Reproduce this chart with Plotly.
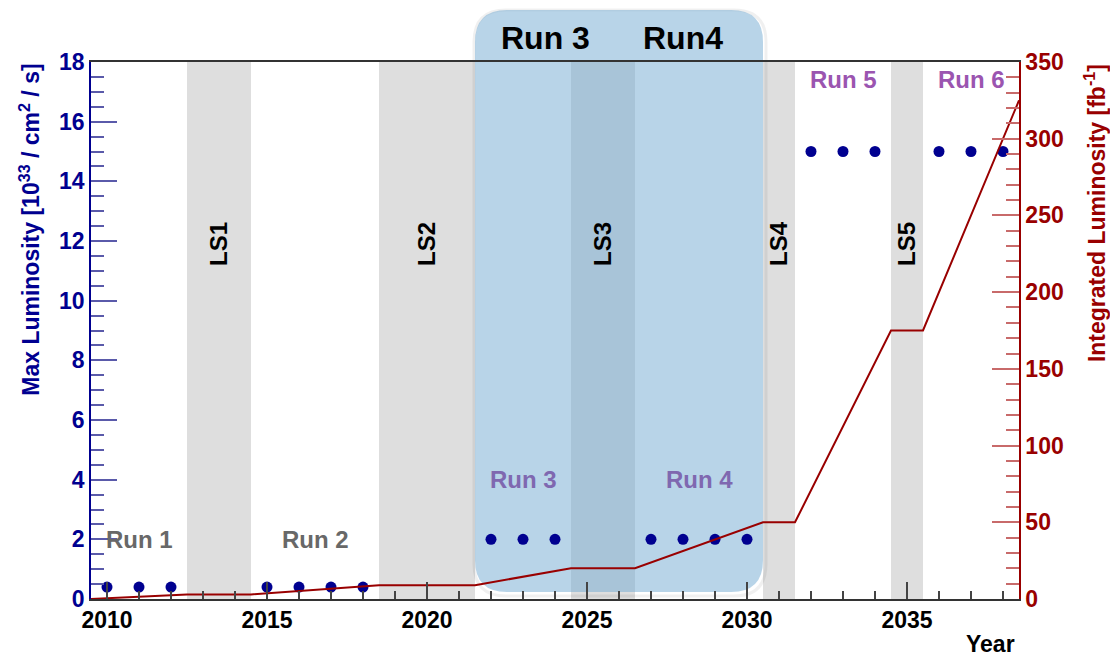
import plotly.graph_objects as go

# ---- data ----
years_max = [2010, 2011, 2012, 2015, 2016, 2017, 2018,
             2022, 2023, 2024, 2027, 2028, 2029, 2030,
             2032, 2033, 2034, 2036, 2037, 2038]
max_lumi = [0.4, 0.4, 0.4, 0.4, 0.4, 0.4, 0.4,
            2.0, 2.0, 2.0, 2.0, 2.0, 2.0, 2.0,
            15, 15, 15, 15, 15, 15]

years_int = [2009.5, 2012.5, 2014.5, 2018.5, 2021.5, 2024.5, 2026.5,
             2030.5, 2031.5, 2034.5, 2035.5, 2038.5]
int_lumi = [0, 3, 3, 9, 9, 20, 20, 50, 50, 175, 175, 325]

ls_names = ["LS1", "LS2", "LS3", "LS4", "LS5"]
ls_start = [2012.5, 2018.5, 2024.5, 2030.5, 2034.5]
ls_end = [2014.5, 2021.5, 2026.5, 2031.5, 2035.5]

run_names = ["Run 1", "Run 2", "Run 3", "Run 4", "Run 5", "Run 6"]
run_x = [2011.0, 2016.5, 2023.0, 2028.5, 2033.0, 2037.0]
run_y = [2.0, 2.0, 4.0, 4.0, 17.4, 17.4]
run_colors = ["#686868", "#686868", "#7f68b0", "#7f68b0", "#9b55b0", "#9b55b0"]

box_years = [2021.5, 2030.5]
box_titles = ["Run 3", "Run4"]
box_title_x = [2023.7, 2028.0]

X_RANGE = [2009.5, 2038.5]
Y_RANGE = [0, 18]
Y2_RANGE = [0, 350]

FONT = "Liberation Sans, Arial, Helvetica, sans-serif"
NAVY = "#000090"
DRED = "#990000"

fig = go.Figure()

fig.add_trace(go.Scatter(
    x=years_int, y=int_lumi, mode="lines", yaxis="y2",
    line=dict(color=DRED, width=2), showlegend=False, hoverinfo="skip"))

fig.add_trace(go.Scatter(
    x=years_max, y=max_lumi, mode="markers",
    marker=dict(color=NAVY, size=11), showlegend=False))

shapes = []
for s, e in zip(ls_start, ls_end):
    shapes.append(dict(type="rect", xref="x", yref="paper", x0=s, x1=e, y0=0, y1=1,
                       fillcolor="#dedede", line=dict(width=0), layer="below"))

# rounded translucent box for Run 3 / Run 4
def px(v):
    return (v - X_RANGE[0]) / (X_RANGE[1] - X_RANGE[0])

bx0, bx1 = px(box_years[0]), px(box_years[1])
by0, by1 = 0.013, 1.097
plot_w, plot_h = 928, 537
r = 32
rx, ry = r / plot_w, r / plot_h


def rounded(x0, x1, y0, y1):
    return (f"M {x0+rx} {y0} L {x1-rx} {y0} Q {x1} {y0} {x1} {y0+ry} "
            f"L {x1} {y1-ry} Q {x1} {y1} {x1-rx} {y1} "
            f"L {x0+rx} {y1} Q {x0} {y1} {x0} {y1-ry} "
            f"L {x0} {y0+ry} Q {x0} {y0} {x0+rx} {y0} Z")


# faint soft shadow outline
shapes.append(dict(type="path", xref="paper", yref="paper",
                   path=rounded(bx0 - 1 / plot_w, bx1 + 3 / plot_w, by0 - 4 / plot_h, by1),
                   fillcolor="rgba(0,0,0,0)", line=dict(width=3, color="rgba(0,0,0,0.06)"),
                   layer="below"))
shapes.append(dict(type="path", xref="paper", yref="paper", path=rounded(bx0, bx1, by0, by1),
                   fillcolor="rgba(113,169,209,0.5)", line=dict(width=0), layer="below"))

annotations = []
for n, s, e in zip(ls_names, ls_start, ls_end):
    annotations.append(dict(x=(s + e) / 2, y=11.9, xref="x", yref="y", text=n,
                            textangle=-90, showarrow=False, xanchor="center", yanchor="middle",
                            font=dict(family=FONT, size=24, color="black", weight="bold")))
for n, x, y, c in zip(run_names, run_x, run_y, run_colors):
    annotations.append(dict(x=x, y=y, xref="x", yref="y", text=n, showarrow=False,
                            xanchor="center", yanchor="middle",
                            font=dict(family=FONT, size=24, color=c, weight="bold")))
for t, x in zip(box_titles, box_title_x):
    annotations.append(dict(x=x, y=1.045, xref="x", yref="paper", text=t, showarrow=False,
                            xanchor="center", yanchor="middle",
                            font=dict(family=FONT, size=32, color="black", weight="bold")))

annotations.append(dict(x=-0.066, y=1.0, xref="paper", yref="paper",
                        xanchor="center", yanchor="top",
                        text="Max Luminosity [10<sup>33</sup> / cm<sup>2</sup> / s]",
                        textangle=-90, showarrow=False,
                        font=dict(family=FONT, size=23, color=NAVY, weight="bold")))
annotations.append(dict(x=1.082, y=1.0, xref="paper", yref="paper",
                        xanchor="center", yanchor="top",
                        text="Integrated Luminosity [fb<sup>-1</sup>]",
                        textangle=-90, showarrow=False,
                        font=dict(family=FONT, size=23, color=DRED, weight="bold")))
annotations.append(dict(x=0.969, y=-0.083, xref="paper", yref="paper",
                        xanchor="center", yanchor="middle",
                        text="Year", showarrow=False,
                        font=dict(family=FONT, size=23, color="black", weight="bold")))

fig.update_layout(
    width=1110, height=659,
    margin=dict(l=91, r=91, t=62, b=60),
    paper_bgcolor="white", plot_bgcolor="white",
    showlegend=False,
    shapes=shapes, annotations=annotations,
    xaxis=dict(range=X_RANGE, tick0=2010, dtick=5, ticks="inside", ticklen=17,
               tickwidth=1.5, tickcolor="#444444",
               minor=dict(ticks="inside", ticklen=8, dtick=1, tickcolor="#444444", tickwidth=1.5),
               showgrid=False, zeroline=False, showline=True, linecolor="#333333",
               linewidth=1.5, mirror=True,
               tickfont=dict(family=FONT, size=23, color="black", weight="bold")),
    yaxis=dict(range=Y_RANGE, dtick=2, ticks="inside", ticklen=26, tickwidth=1.5,
               tickcolor="#5a5aaa",
               minor=dict(ticks="inside", ticklen=13, dtick=0.5, tickcolor="#5a5aaa", tickwidth=1.5),
               showgrid=False, zeroline=False, showline=True, linecolor=NAVY, linewidth=1.5,
               tickfont=dict(family=FONT, size=23, color=NAVY, weight="bold")),
    yaxis2=dict(range=Y2_RANGE, dtick=50, overlaying="y", side="right", ticks="inside",
                ticklen=27, tickwidth=1.5, tickcolor="#c86a6a",
                minor=dict(ticks="inside", ticklen=13, dtick=10, tickcolor="#c86a6a", tickwidth=1.5),
                showgrid=False, zeroline=False, showline=True, linecolor=DRED, linewidth=1.5,
                tickfont=dict(family=FONT, size=23, color=DRED, weight="bold")),
)

fig.write_html("out.html")
